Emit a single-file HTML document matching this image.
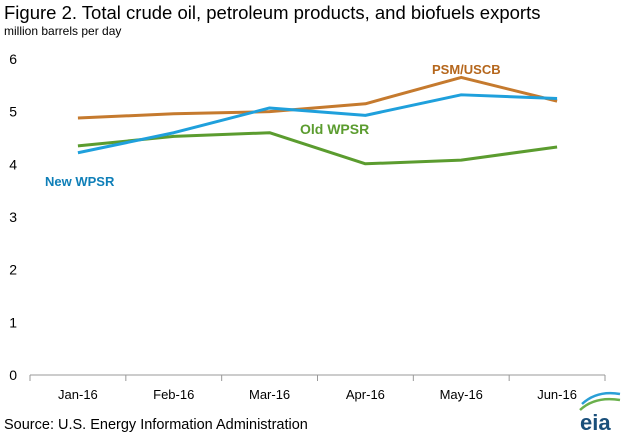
<!DOCTYPE html>
<html><head><meta charset="utf-8"><style>
body{margin:0;background:#fff;font-family:"Liberation Sans",Arial,sans-serif;}
</style></head><body>
<svg id="chart" width="624" height="437" xmlns="http://www.w3.org/2000/svg">
<text x="4" y="19" font-size="18.5" fill="#000">Figure 2. Total crude oil, petroleum products, and biofuels exports</text>
<text x="4" y="35" font-size="12" fill="#000">million barrels per day</text>
<g id="grid"></g>
<g id="yt"></g>
<g id="xt"></g>
<g id="series"></g>
<text x="45" y="186" font-size="13" font-weight="bold" fill="#0f7fb8">New WPSR</text>
<text x="300" y="134" font-size="14" font-weight="bold" fill="#5b9c2f">Old WPSR</text>
<text x="432" y="74" font-size="13" font-weight="bold" fill="#b5661b">PSM/USCB</text>
<text x="4" y="429" font-size="14.5" fill="#000">Source: U.S. Energy Information Administration</text>
<g>
<text x="580" y="430" font-size="22" fill="#1a4f7a" font-weight="bold">eia</text>
<path d="M580 410 Q595 396 620 400" stroke="#6ab04c" stroke-width="2.5" fill="none"/>
<path d="M582 404 Q597 390 620 394" stroke="#2a9fd6" stroke-width="2.5" fill="none"/>
</g>
</svg>
<script>
const categories=["Jan-16","Feb-16","Mar-16","Apr-16","May-16","Jun-16"];
const psmUscb=[4.88,4.96,5.0,5.15,5.65,5.2];
const newWpsr=[4.22,4.6,5.07,4.93,5.32,5.25];
const oldWpsr=[4.35,4.53,4.6,4.01,4.08,4.33];
const yTicks=[0,1,2,3,4,5,6];
const NS="http://www.w3.org/2000/svg";
const L=30,R=605,T=59,B=375;
const band=(R-L)/categories.length;
const x=i=>L+band*(i+0.5);
const y=v=>B-(v/6)*(B-T);
function mk(tag,attrs,parent){const e=document.createElementNS(NS,tag);for(const k in attrs)e.setAttribute(k,attrs[k]);parent.appendChild(e);return e;}
const grid=document.getElementById('grid'),yt=document.getElementById('yt'),xt=document.getElementById('xt'),ser=document.getElementById('series');
yTicks.forEach(t=>{
 const tx=mk('text',{x:17,y:y(t)+5,'font-size':14,'text-anchor':'end',fill:'#000'},yt);
 tx.textContent=t;
 
 
});
const ax=mk('line',{x1:L,x2:R,y1:B,y2:B,stroke:'#999','stroke-width':1},grid);


for(let i=0;i<=categories.length;i++){
 const tk=mk('line',{x1:L+band*i,x2:L+band*i,y1:B,y2:B+6,stroke:'#999'},grid);
 
 
}
categories.forEach((c,i)=>{
 const tx=mk('text',{x:x(i),y:399,'font-size':13,'text-anchor':'middle',fill:'#000'},xt);
 tx.textContent=c;
 
 
});
function line(data,color,name){
 const p=mk('polyline',{points:data.map((v,i)=>x(i)+','+y(v)).join(' '),fill:'none',stroke:color,'stroke-width':3,'stroke-linejoin':'round'},ser);
 
 
}
line(oldWpsr,'#5b9c2f','line-old-wpsr');
line(psmUscb,'#c57a2e','line-psm-uscb');
line(newWpsr,'#1fa0dc','line-new-wpsr');
</script>
</body></html>
